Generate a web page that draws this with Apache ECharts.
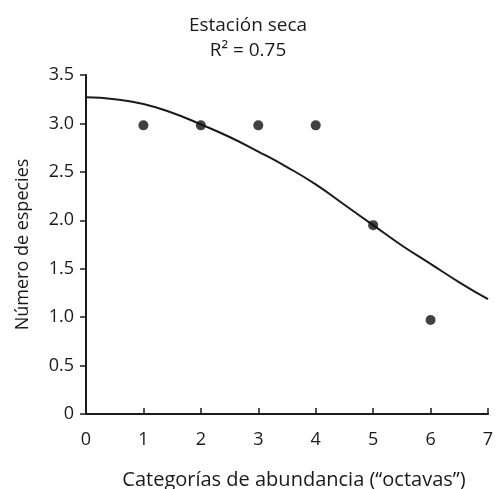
<!DOCTYPE html>
<html><head><meta charset="utf-8">
<script src="https://cdn.jsdelivr.net/npm/echarts@6/dist/echarts.min.js"></script>
<style>html,body{margin:0;padding:0;background:#fff}#c{width:496px;height:489px}</style>
</head><body><div id="c"></div>
<script>
const titleLines = ['Estación seca', 'R² = 0.75'];
const xName = 'Categorías de abundancia (“octavas”)';
const yName = 'Número de especies';
const pointX = [1, 2, 3, 4, 5, 6];
const pointY = [2.98, 2.98, 2.98, 2.98, 1.95, 0.97];
const curveX = [0, 0.5, 1, 1.5, 2, 2.5, 3, 3.5, 4, 4.5, 5, 5.5, 6, 6.5, 7];
const curveY = [3.27, 3.25, 3.20, 3.11, 2.99, 2.86, 2.71, 2.55, 2.37, 2.16, 1.95, 1.74, 1.55, 1.36, 1.185];
const yTickLabels = {0:'0',0.5:'0.5',1:'1.0',1.5:'1.5',2:'2.0',2.5:'2.5',3:'3.0',3.5:'3.5'};

const font = '"Open Sans", "Noto Sans", sans-serif';
const ink = '#1a1a1a';
const chart = echarts.init(document.getElementById('c'));
chart.setOption({
  animation: false,
  textStyle: {fontFamily: font, color: ink},
  title: {
    text: titleLines.join('\n'), left: 'center', top: 8,
    textStyle: {fontFamily: font, fontWeight: 'normal', fontSize: 19, color: ink, lineHeight: 25}
  },
  grid: {left: 86, right: 8, top: 75, bottom: 75, containLabel: false, outerBoundsMode: 'none'},
  xAxis: {
    type: 'value', min: 0, max: 7, interval: 1,
    name: xName, nameLocation: 'middle', nameGap: 56,
    nameTextStyle: {fontFamily: font, fontSize: 20, color: ink, padding: [0, 0, 0, 14]},
    axisLine: {show: true, onZero: false, lineStyle: {color: ink, width: 2}},
    axisTick: {show: true, inside: true, length: 6, lineStyle: {color: ink, width: 1.5}},
    axisLabel: {fontFamily: font, fontSize: 18, color: ink, margin: 17},
    splitLine: {show: false}
  },
  yAxis: {
    type: 'value', min: 0, max: 3.5, interval: 0.5,
    name: yName, nameLocation: 'middle', nameGap: 54,
    nameTextStyle: {fontFamily: font, fontSize: 18, color: ink},
    axisLine: {show: true, lineStyle: {color: ink, width: 2}},
    axisTick: {show: true, inside: false, length: 6, lineStyle: {color: ink, width: 1.5}},
    axisLabel: {fontFamily: font, fontSize: 18, color: ink, margin: 12,
      formatter: v => yTickLabels[v] !== undefined ? yTickLabels[v] : String(v)},
    splitLine: {show: false}
  },
  series: [
    {
      type: 'line', data: curveX.map((x, i) => [x, curveY[i]]),
      smooth: true, showSymbol: false, symbol: 'none',
      lineStyle: {color: ink, width: 2}, z: 2
    },
    {
      type: 'scatter', data: pointX.map((x, i) => [x, pointY[i]]),
      symbol: 'circle', symbolSize: 10, itemStyle: {color: '#111'}, z: 3
    }
  ]
});
</script></body></html>
